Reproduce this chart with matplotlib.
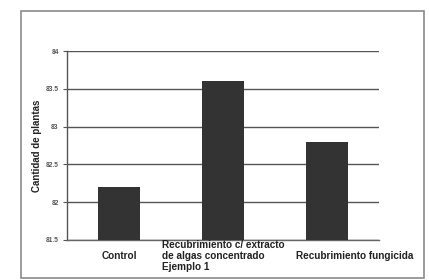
import numpy as np
import matplotlib
matplotlib.use("Agg")
import matplotlib.pyplot as plt
from matplotlib.patches import Rectangle

categories = ["Control", "Recubrimiento c/ extracto\nde algas concentrado\nEjemplo 1", "Recubrimiento fungicida"]
values = [82.2, 83.6, 82.8]
yticks = [81.5, 82, 82.5, 83, 83.5, 84]
ytick_labels = ["81.5", "82", "82.5", "83", "83.5", "84"]

plt.rcParams['font.family'] = ['Liberation Sans', 'DejaVu Sans']

fig = plt.figure(figsize=(4.29, 2.80), dpi=100)
ax = fig.add_axes([67 / 429, 40 / 280, 312 / 429, 189 / 280])

# marco exterior del grafico
fig.patches.append(Rectangle((21 / 429, 2 / 280), 403 / 429, 267 / 280, transform=fig.transFigure,
                             fill=False, edgecolor="#8a8a8a", linewidth=1.2))

x = np.arange(len(categories))
ax.bar(x, values, width=0.4, color="#333333", zorder=3, bottom=0)
ax.set_ylim(81.5, 84)
ax.set_xlim(-0.5, len(categories) - 0.5)

ax.set_yticks(yticks)
ax.set_yticklabels(ytick_labels, fontsize=4.8, color="#555555", fontweight='bold')
ax.yaxis.grid(True, color="#555555", linewidth=1.0, zorder=1)
ax.tick_params(axis='y', direction='out', length=3, width=0.8, color="#555555", pad=3)

# las etiquetas del eje x, la ultima corrida a la derecha como en el original
shift = [0, 0, 20]
ax.set_xticks([])
for xi, lab, dx in zip(x, categories, shift):
    ax.annotate(lab, (xi, -0.085), xycoords=ax.get_xaxis_transform(), xytext=(dx, 0),
                textcoords='offset points', ha='center', va='center', multialignment='left',
                fontsize=7.2, fontweight='bold', color="#222222", linespacing=1.1)

ax.set_ylabel("Cantidad de plantas", fontsize=7, fontweight='bold', color="#222222", labelpad=3)

for s in ["top", "right"]:
    ax.spines[s].set_visible(False)
ax.spines["left"].set_color("#555555")
ax.spines["left"].set_linewidth(1.0)
ax.spines["bottom"].set_color("#666666")
ax.spines["bottom"].set_linewidth(1.0)

fig.savefig("out.png", dpi=100)
